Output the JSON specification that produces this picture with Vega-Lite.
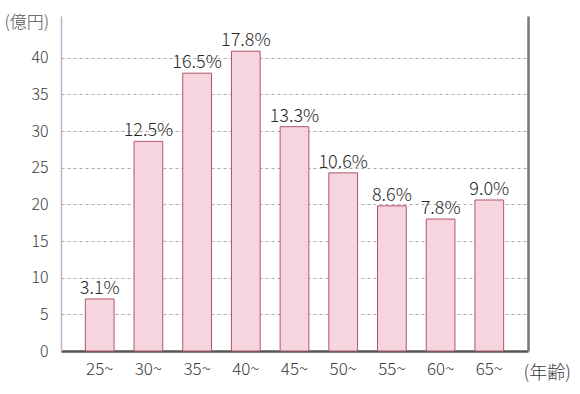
{
  "$schema": "https://vega.github.io/schema/vega-lite/v6.json",
  "width": 467,
  "height": 335,
  "autosize": {"type": "none"},
  "padding": {"left": 61, "top": 16, "right": 52, "bottom": 43},
  "background": "white",
  "config": {
    "view": {"stroke": null},
    "font": "Noto Sans CJK JP",
    "axis": {"labelFont": "Noto Sans CJK JP", "titleFont": "Noto Sans CJK JP"}
  },
  "data": {
    "values": [
      {"age": "25~", "amount": 7.1, "share": "3.1%"},
      {"age": "30~", "amount": 28.6, "share": "12.5%"},
      {"age": "35~", "amount": 37.9, "share": "16.5%"},
      {"age": "40~", "amount": 40.9, "share": "17.8%"},
      {"age": "45~", "amount": 30.6, "share": "13.3%"},
      {"age": "50~", "amount": 24.3, "share": "10.6%"},
      {"age": "55~", "amount": 19.8, "share": "8.6%"},
      {"age": "60~", "amount": 18.0, "share": "7.8%"},
      {"age": "65~", "amount": 20.6, "share": "9.0%"}
    ]
  },
  "encoding": {
    "x": {
      "field": "age",
      "type": "nominal",
      "sort": null,
      "scale": {"paddingInner": 0.41, "paddingOuter": 0.5},
      "axis": {
        "title": "(年齢)",
        "titleAngle": 0,
        "titleX": 462,
        "titleY": 27,
        "titleAlign": "left",
        "titleBaseline": "alphabetic",
        "titleFontSize": 18,
        "titleFontWeight": 300,
        "titleColor": "#3a3a3a",
        "labelAngle": 0,
        "labelFontSize": 17,
        "labelFontWeight": 300,
        "labelColor": "#3a3a3a",
        "labelPadding": 10,
        "ticks": false,
        "domainColor": "#555555",
        "domainWidth": 2.5
      }
    },
    "y": {
      "field": "amount",
      "type": "quantitative",
      "scale": {"domain": [0, 45.7], "nice": false},
      "axis": {
        "values": [0, 5, 10, 15, 20, 25, 30, 35, 40],
        "title": "(億円)",
        "titleAngle": 0,
        "titleX": -57,
        "titleY": 6,
        "titleAlign": "left",
        "titleBaseline": "middle",
        "titleFontSize": 17,
        "titleFontWeight": 300,
        "titleColor": "#555555",
        "labelFontSize": 16,
        "labelFontWeight": 300,
        "labelColor": "#3a3a3a",
        "labelPadding": 13,
        "ticks": false,
        "grid": true,
        "gridDash": [3, 3],
        "gridColor": "#aaaaaa",
        "gridWidth": 1,
        "domainColor": "#c4b0cc",
        "domainWidth": 1.5
      }
    }
  },
  "layer": [
    {
      "mark": {"type": "bar", "fill": "#f7d5df", "stroke": "#b05565", "strokeWidth": 1}
    },
    {
      "mark": {"type": "text", "baseline": "alphabetic", "dy": -5, "fontSize": 18, "fontWeight": 300, "color": "#2a2a2a"},
      "encoding": {
        "text": {"field": "share"},
        "y": {
          "field": "amount",
          "type": "quantitative",
          "axis": {
            "orient": "right",
            "labels": false,
            "ticks": false,
            "grid": false,
            "title": null,
            "domainColor": "#777777",
            "domainWidth": 2.5
          }
        }
      }
    }
  ],
  "resolve": {"axis": {"y": "independent"}}
}
